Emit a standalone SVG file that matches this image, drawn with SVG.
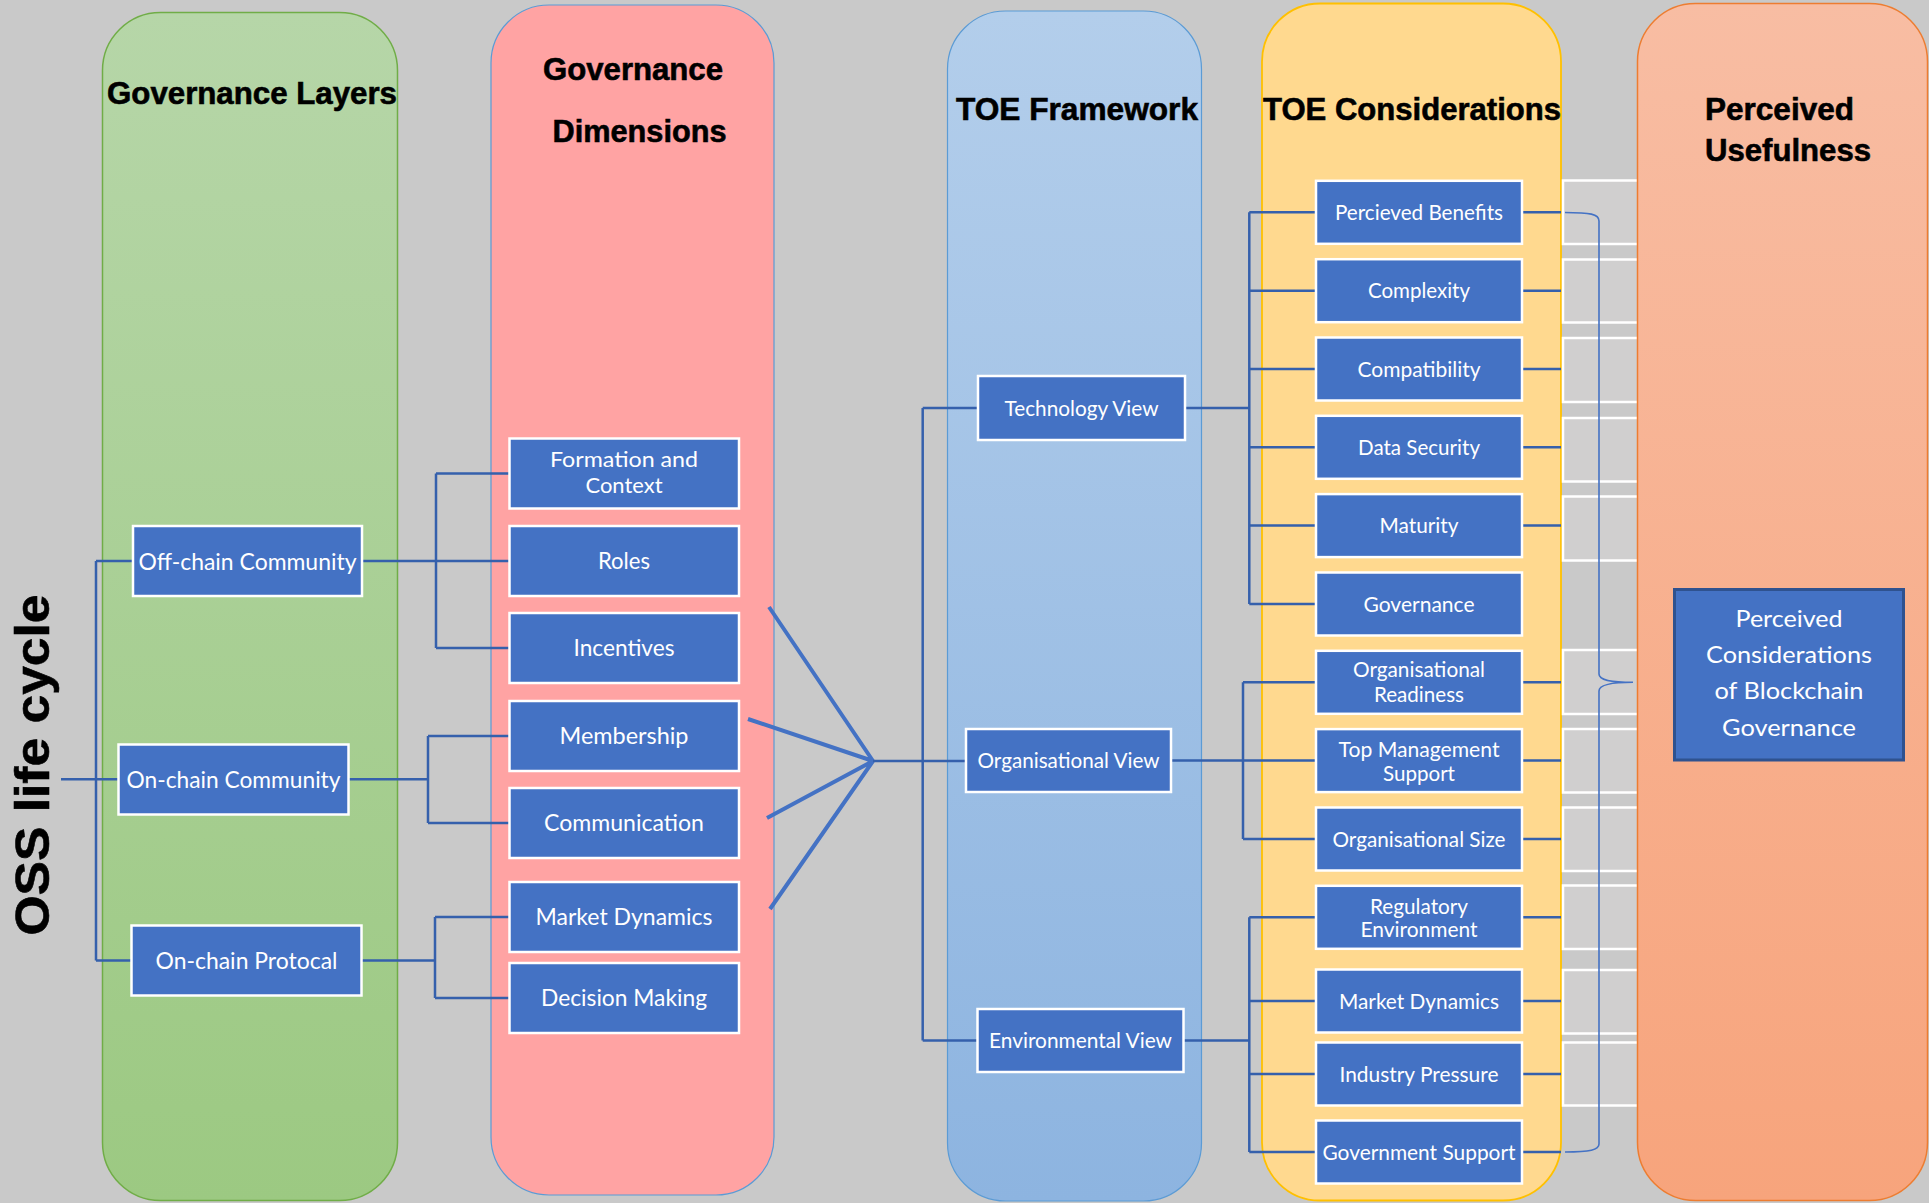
<svg xmlns="http://www.w3.org/2000/svg" width="1929" height="1203" viewBox="0 0 1929 1203">
  <defs>
    <linearGradient id="gGreen" x1="0" y1="0" x2="0" y2="1">
      <stop offset="0" stop-color="#B6D6A8"/>
      <stop offset="1" stop-color="#9CC982"/>
    </linearGradient>
    <linearGradient id="gBlue" x1="0" y1="0" x2="0" y2="1">
      <stop offset="0" stop-color="#B3CEEB"/>
      <stop offset="1" stop-color="#8DB4E0"/>
    </linearGradient>
    <linearGradient id="gOrange" x1="0" y1="0" x2="0" y2="1">
      <stop offset="0" stop-color="#F8BDA3"/>
      <stop offset="1" stop-color="#F7A47C"/>
    </linearGradient>
    <style>
      .title { font-family: "Liberation Sans", Arial, sans-serif; font-weight: bold; font-size: 31px; fill: #000; stroke: #000; stroke-width: 0.6; }
      .node rect { fill: #4472C4; stroke: #FFFFFF; stroke-width: 2.5; }
      .node text { font-family: Lato, "Open Sans", sans-serif; fill: #FFFFFF; text-anchor: middle; }
      .t24 { font-size: 24px; }
      .t23 { font-size: 23px; }
      .t21 { font-size: 21px; }
      .link { fill: none; stroke: #3560AC; stroke-width: 2.5; }
      .fan { fill: none; stroke: #4472C4; stroke-width: 4; }
      .slot { fill: #D0CFCF; }
      .slotEdge { fill: none; stroke: #FFFFFF; stroke-width: 2.5; }
      .brace { fill: none; stroke: #4472C4; stroke-width: 1.6; }
    </style>
  </defs>

  <!-- background -->
  <rect x="0" y="0" width="1929" height="1203" fill="#C9C9C9"/>

  <!-- column bands -->
  <g id="columns">
    <rect id="col-layers" x="102.5" y="12.5" width="295" height="1188" rx="58" ry="58" fill="url(#gGreen)" stroke="#70AD47" stroke-width="1.5"/>
    <rect id="col-dimensions" x="491" y="5" width="283" height="1190" rx="58" ry="58" fill="#FFA3A3" stroke="#5B9BD5" stroke-width="1.2"/>
    <rect id="col-toe" x="947.5" y="11" width="254" height="1190" rx="58" ry="58" fill="url(#gBlue)" stroke="#5B9BD5" stroke-width="1.2"/>
    <rect id="col-considerations" x="1262" y="3.5" width="299" height="1197" rx="58" ry="58" fill="#FFD98F" stroke="#FFC000" stroke-width="1.8"/>
  </g>

  <!-- grey slots between the considerations and the usefulness band -->
  <g id="slots">
    <rect class="slot" x="1563" y="180.5" width="76" height="63.5"/>
    <rect class="slot" x="1563" y="259.5" width="76" height="63"/>
    <rect class="slot" x="1563" y="338" width="76" height="64"/>
    <rect class="slot" x="1563" y="418" width="76" height="63.5"/>
    <rect class="slot" x="1563" y="496.5" width="76" height="64"/>
    <rect class="slot" x="1563" y="650" width="76" height="64"/>
    <rect class="slot" x="1563" y="729" width="76" height="63.5"/>
    <rect class="slot" x="1563" y="807.5" width="76" height="63.5"/>
    <rect class="slot" x="1563" y="885.5" width="76" height="63.5"/>
    <rect class="slot" x="1563" y="970" width="76" height="63.5"/>
    <rect class="slot" x="1563" y="1042.5" width="76" height="63"/>
    <path class="slotEdge" d="M1640,180.5 H1563 V244 H1640 M1640,259.5 H1563 V322.5 H1640 M1640,338 H1563 V402 H1640 M1640,418 H1563 V481.5 H1640 M1640,496.5 H1563 V560.5 H1640 M1640,650 H1563 V714 H1640 M1640,729 H1563 V792.5 H1640 M1640,807.5 H1563 V871 H1640 M1640,885.5 H1563 V949 H1640 M1640,970 H1563 V1033.5 H1640 M1640,1042.5 H1563 V1105.5 H1640"/>
  </g>

  <rect id="col-usefulness" x="1637.5" y="3.5" width="290" height="1197" rx="58" ry="58" fill="url(#gOrange)" stroke="#ED7D31" stroke-width="1.5"/>

  <!-- column headings -->
  <g id="headings">
    <text class="title" x="107" y="104" textLength="290" lengthAdjust="spacingAndGlyphs">Governance Layers</text>
    <text class="title" x="543" y="80" textLength="180" lengthAdjust="spacingAndGlyphs">Governance</text>
    <text class="title" x="552.5" y="142" textLength="174" lengthAdjust="spacingAndGlyphs">Dimensions</text>
    <text class="title" x="956" y="120" textLength="242" lengthAdjust="spacingAndGlyphs">TOE Framework</text>
    <text class="title" x="1263" y="120" textLength="298" lengthAdjust="spacingAndGlyphs">TOE Considerations</text>
    <text class="title" x="1705" y="120" textLength="149" lengthAdjust="spacingAndGlyphs">Perceived</text>
    <text class="title" x="1705" y="161" textLength="166" lengthAdjust="spacingAndGlyphs">Usefulness</text>
    <text class="title" transform="translate(49,765) rotate(-90)" text-anchor="middle" textLength="341" lengthAdjust="spacingAndGlyphs" style="font-size:49px">OSS life cycle</text>
  </g>

  <!-- connectors -->
  <g id="connectors">
    <!-- life cycle to governance layers -->
    <path class="link" d="M61,779.3 H118.5 M96,561 V960.5 M96,561 H133 M96,960.5 H131.5"/>
    <!-- off-chain community to dimensions -->
    <path class="link" d="M362,561 H509.5 M436,473.5 V648 M436,473.5 H509.5 M436,648 H509.5"/>
    <!-- on-chain community to dimensions -->
    <path class="link" d="M348.5,779.3 H428 M428,736 V823 M428,736 H509.5 M428,823 H509.5"/>
    <!-- on-chain protocal to dimensions -->
    <path class="link" d="M361.5,960.5 H435 M435,917 V998 M435,917 H509.5 M435,998 H509.5"/>
    <!-- dimensions converge on the TOE framework -->
    <path class="fan" d="M769,607 L873,761 M748,719 L873,761 M767,818 L873,761 M770,909 L873,761"/>
    <path class="link" d="M873,761 H966 M922.7,408 V1040.5 M922.7,408 H978 M922.7,1040.5 H977.5"/>
    <!-- technology view to its considerations -->
    <path class="link" d="M1185,408 H1249.3 M1249.3,212.3 V604 M1249.3,212.3 H1316 M1249.3,290.7 H1316 M1249.3,369 H1316 M1249.3,447.3 H1316 M1249.3,525.6 H1316 M1249.3,604 H1316"/>
    <!-- organisational view to its considerations -->
    <path class="link" d="M1171,760.6 H1316 M1243,682.3 V839 M1243,682.3 H1316 M1243,839 H1316"/>
    <!-- environmental view to its considerations -->
    <path class="link" d="M1183.5,1040.5 H1249.3 M1249.3,917.3 V1152 M1249.3,917.3 H1316 M1249.3,1001 H1316 M1249.3,1074 H1316 M1249.3,1152 H1316"/>
    <!-- considerations out to the band edge -->
    <path class="link" d="M1522,212.3 H1561 M1522,290.7 H1561 M1522,369 H1561 M1522,447.3 H1561 M1522,525.6 H1561 M1522,682.3 H1561 M1522,760.6 H1561 M1522,839 H1561 M1522,917.3 H1561 M1522,1001 H1561 M1522,1074 H1561 M1522,1152 H1561"/>
    <!-- brace gathering all considerations -->
    <path class="brace" d="M1565,212.5 C1590,212.5 1599,214 1599,221 V674 C1599,680 1610,682.3 1633,682.3 C1610,682.3 1599,685 1599,691 V1144 C1599,1150 1590,1152 1565,1152"/>
  </g>

  <!-- governance layers -->
  <g id="off-chain-community" class="node">
    <rect x="133" y="526" width="229" height="70"/>
    <text class="t24" x="247.5" y="569.6" textLength="218" lengthAdjust="spacingAndGlyphs">Off-chain Community</text>
  </g>
  <g id="on-chain-community" class="node">
    <rect x="118.5" y="744.5" width="230" height="70"/>
    <text class="t24" x="233.5" y="788" textLength="214" lengthAdjust="spacingAndGlyphs">On-chain Community</text>
  </g>
  <g id="on-chain-protocal" class="node">
    <rect x="131.5" y="925.5" width="230" height="70"/>
    <text class="t24" x="246.5" y="969" textLength="182" lengthAdjust="spacingAndGlyphs">On-chain Protocal</text>
  </g>

  <!-- governance dimensions -->
  <g id="formation-and-context" class="node">
    <rect x="509.5" y="438.5" width="229.5" height="70"/>
    <text class="t21" x="624" y="467" textLength="148" lengthAdjust="spacingAndGlyphs">Formation and</text>
    <text class="t21" x="624" y="493.3" textLength="77" lengthAdjust="spacingAndGlyphs">Context</text>
  </g>
  <g id="roles" class="node">
    <rect x="509.5" y="526" width="229.5" height="70"/>
    <text class="t23" x="624" y="569.3" textLength="52" lengthAdjust="spacingAndGlyphs">Roles</text>
  </g>
  <g id="incentives" class="node">
    <rect x="509.5" y="613" width="229.5" height="70"/>
    <text class="t23" x="624" y="656.3" textLength="101" lengthAdjust="spacingAndGlyphs">Incentives</text>
  </g>
  <g id="membership" class="node">
    <rect x="509.5" y="701" width="229.5" height="70"/>
    <text class="t23" x="624" y="744.3" textLength="129" lengthAdjust="spacingAndGlyphs">Membership</text>
  </g>
  <g id="communication" class="node">
    <rect x="509.5" y="788" width="229.5" height="70"/>
    <text class="t23" x="624" y="831.3" textLength="160" lengthAdjust="spacingAndGlyphs">Communication</text>
  </g>
  <g id="market-dynamics-dim" class="node">
    <rect x="509.5" y="882" width="229.5" height="70"/>
    <text class="t23" x="624" y="925.3" textLength="177" lengthAdjust="spacingAndGlyphs">Market Dynamics</text>
  </g>
  <g id="decision-making" class="node">
    <rect x="509.5" y="963" width="229.5" height="70"/>
    <text class="t23" x="624" y="1006.3" textLength="166" lengthAdjust="spacingAndGlyphs">Decision Making</text>
  </g>

  <!-- TOE framework -->
  <g id="technology-view" class="node">
    <rect x="978" y="376" width="207" height="64"/>
    <text class="t21" x="1081.5" y="415.5" textLength="154" lengthAdjust="spacingAndGlyphs">Technology View</text>
  </g>
  <g id="organisational-view" class="node">
    <rect x="966" y="729" width="205" height="63"/>
    <text class="t21" x="1068.5" y="768" textLength="182" lengthAdjust="spacingAndGlyphs">Organisational View</text>
  </g>
  <g id="environmental-view" class="node">
    <rect x="977.5" y="1009" width="206" height="63"/>
    <text class="t21" x="1080.5" y="1048" textLength="183" lengthAdjust="spacingAndGlyphs">Environmental View</text>
  </g>

  <!-- TOE considerations -->
  <g id="percieved-benefits" class="node">
    <rect x="1316" y="180.8" width="206" height="63"/>
    <text class="t21" x="1419" y="219.8" textLength="168" lengthAdjust="spacingAndGlyphs">Percieved Benefits</text>
  </g>
  <g id="complexity" class="node">
    <rect x="1316" y="259.2" width="206" height="63"/>
    <text class="t21" x="1419" y="298.2" textLength="102" lengthAdjust="spacingAndGlyphs">Complexity</text>
  </g>
  <g id="compatibility" class="node">
    <rect x="1316" y="337.5" width="206" height="63"/>
    <text class="t21" x="1419" y="376.5" textLength="123" lengthAdjust="spacingAndGlyphs">Compatibility</text>
  </g>
  <g id="data-security" class="node">
    <rect x="1316" y="415.8" width="206" height="63"/>
    <text class="t21" x="1419" y="454.8" textLength="122" lengthAdjust="spacingAndGlyphs">Data Security</text>
  </g>
  <g id="maturity" class="node">
    <rect x="1316" y="494.1" width="206" height="63"/>
    <text class="t21" x="1419" y="533.1" textLength="79" lengthAdjust="spacingAndGlyphs">Maturity</text>
  </g>
  <g id="governance" class="node">
    <rect x="1316" y="572.5" width="206" height="63"/>
    <text class="t21" x="1419" y="611.5" textLength="111" lengthAdjust="spacingAndGlyphs">Governance</text>
  </g>
  <g id="organisational-readiness" class="node">
    <rect x="1316" y="650.8" width="206" height="63"/>
    <text class="t21" x="1419" y="676.5" textLength="132" lengthAdjust="spacingAndGlyphs">Organisational</text>
    <text class="t21" x="1419" y="701.5" textLength="90" lengthAdjust="spacingAndGlyphs">Readiness</text>
  </g>
  <g id="top-management-support" class="node">
    <rect x="1316" y="729.1" width="206" height="63"/>
    <text class="t21" x="1419" y="756.5" textLength="161" lengthAdjust="spacingAndGlyphs">Top Management</text>
    <text class="t21" x="1419" y="780.5" textLength="72" lengthAdjust="spacingAndGlyphs">Support</text>
  </g>
  <g id="organisational-size" class="node">
    <rect x="1316" y="807.5" width="206" height="63"/>
    <text class="t21" x="1419" y="846.5" textLength="173" lengthAdjust="spacingAndGlyphs">Organisational Size</text>
  </g>
  <g id="regulatory-environment" class="node">
    <rect x="1316" y="885.8" width="206" height="63"/>
    <text class="t21" x="1419" y="914" textLength="98" lengthAdjust="spacingAndGlyphs">Regulatory</text>
    <text class="t21" x="1419" y="937" textLength="117" lengthAdjust="spacingAndGlyphs">Environment</text>
  </g>
  <g id="market-dynamics" class="node">
    <rect x="1316" y="969.5" width="206" height="63"/>
    <text class="t21" x="1419" y="1008.5" textLength="160" lengthAdjust="spacingAndGlyphs">Market Dynamics</text>
  </g>
  <g id="industry-pressure" class="node">
    <rect x="1316" y="1042.5" width="206" height="63"/>
    <text class="t21" x="1419" y="1081.5" textLength="159" lengthAdjust="spacingAndGlyphs">Industry Pressure</text>
  </g>
  <g id="government-support" class="node">
    <rect x="1316" y="1120.5" width="206" height="63"/>
    <text class="t21" x="1419" y="1159.5" textLength="193" lengthAdjust="spacingAndGlyphs">Government Support</text>
  </g>

  <!-- perceived usefulness -->
  <g id="perceived-considerations" class="node">
    <rect x="1674.5" y="589.5" width="229" height="170.5" style="stroke:#2F528F;stroke-width:3"/>
    <text class="t23" x="1789" y="626.5" textLength="107" lengthAdjust="spacingAndGlyphs">Perceived</text>
    <text class="t23" x="1789" y="663" textLength="166" lengthAdjust="spacingAndGlyphs">Considerations</text>
    <text class="t23" x="1789" y="699" textLength="149" lengthAdjust="spacingAndGlyphs">of Blockchain</text>
    <text class="t23" x="1789" y="736" textLength="134" lengthAdjust="spacingAndGlyphs">Governance</text>
  </g>
</svg>
